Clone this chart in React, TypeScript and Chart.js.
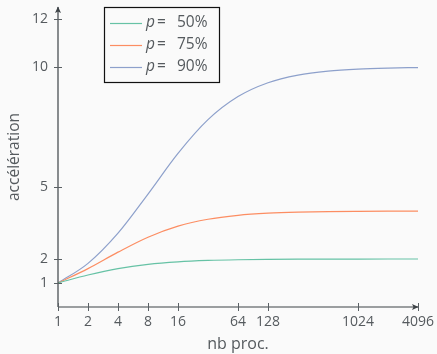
import React, { useEffect, useRef } from "react";
import { Chart, registerables } from "chart.js";

Chart.register(...registerables);

const procs = [1, 2, 4, 8, 16, 32, 64, 128, 256, 512, 1024, 2048, 4096];
const speedup50 = [1, 1.333, 1.6, 1.778, 1.882, 1.939, 1.969, 1.984, 1.992, 1.996, 1.998, 1.999, 2.0];
const speedup75 = [1, 1.6, 2.286, 2.909, 3.368, 3.657, 3.82, 3.908, 3.954, 3.977, 3.988, 3.994, 3.997];
const speedup90 = [1, 1.818, 3.077, 4.706, 6.4, 7.805, 8.767, 9.343, 9.66, 9.827, 9.913, 9.956, 9.978];
const xTicks = [1, 2, 4, 8, 16, 64, 128, 1024, 4096];
const yTicks = [1, 2, 5, 10, 12];
const seriesLabels = ["50%", "75%", "90%"];
const seriesColors = ["#66c2a5", "#fc8d62", "#8da0cb"];

const BG = "#fafafa";
const TEXT = "#555a5e";
const AXIS = "#3c4246";
const FONT = "'Open Sans', 'Noto Sans', sans-serif";

export default function App() {
  const ref = useRef<HTMLCanvasElement | null>(null);

  useEffect(() => {
    document.body.style.margin = "0";
    document.body.style.background = BG;
    const canvas = ref.current!;
    const bgPlugin = {
      id: "bg",
      beforeDraw(chart: any) {
        const c = chart.ctx;
        c.save();
        c.fillStyle = BG;
        c.fillRect(0, 0, chart.width, chart.height);
        c.restore();
      },
    };
    const axesPlugin = {
      id: "axesCustom",
      afterDatasetsDraw(chart: any) {
        const c = chart.ctx;
        const xs = chart.scales.x;
        const ys = chart.scales.y;
        const x0 = xs.getPixelForValue(1);
        const x1 = xs.getPixelForValue(4096);
        const y0 = ys.getPixelForValue(0);
        const yTop = ys.getPixelForValue(12.5);
        c.save();
        c.strokeStyle = AXIS;
        c.fillStyle = AXIS;
        c.lineWidth = 1.2;
        // x axis
        c.beginPath();
        c.moveTo(x0, y0);
        c.lineTo(x1, y0);
        c.stroke();
        c.beginPath();
        c.moveTo(x1 + 0.5, y0);
        c.lineTo(x1 - 6, y0 - 3);
        c.lineTo(x1 - 4.5, y0);
        c.lineTo(x1 - 6, y0 + 3);
        c.closePath();
        c.fill();
        // y axis
        c.beginPath();
        c.moveTo(x0, y0);
        c.lineTo(x0, yTop);
        c.stroke();
        c.beginPath();
        c.moveTo(x0, yTop - 0.5);
        c.lineTo(x0 - 3, yTop + 6);
        c.lineTo(x0, yTop + 4.5);
        c.lineTo(x0 + 3, yTop + 6);
        c.closePath();
        c.fill();
        // ticks
        c.lineWidth = 1;
        c.strokeStyle = "#5a6064";
        for (const t of xTicks) {
          const px = Math.round(xs.getPixelForValue(t)) + 0.5;
          c.beginPath();
          c.moveTo(px, y0 - 4);
          c.lineTo(px, y0 + 4);
          c.stroke();
        }
        for (const t of yTicks) {
          const py = Math.round(ys.getPixelForValue(t)) + 0.5;
          c.beginPath();
          c.moveTo(x0 - 4, py);
          c.lineTo(x0 + 4, py);
          c.stroke();
        }
        // legend
        const lx = 104.5, ly = 7.5, lw = 115, lh = 75;
        c.fillStyle = BG;
        c.fillRect(lx, ly, lw, lh);
        c.strokeStyle = "#111";
        c.lineWidth = 1.2;
        c.strokeRect(lx, ly, lw, lh);
        const rows = [23, 45, 67];
        for (let i = 0; i < 3; i++) {
          const ry = rows[i];
          c.strokeStyle = seriesColors[i];
          c.lineWidth = 1.2;
          c.beginPath();
          c.moveTo(110, ry + 0.5);
          c.lineTo(142, ry + 0.5);
          c.stroke();
          c.fillStyle = TEXT;
          c.textBaseline = "middle";
          c.textAlign = "left";
          c.font = "italic 15.5px " + FONT;
          c.fillText("p", 146, ry);
          c.font = "15.5px " + FONT;
          c.fillText("=", 157, ry);
          c.fillText(seriesLabels[i], 177, ry);
        }
        c.restore();
      },
    };

    const chart = new Chart(canvas, {
      type: "line",
      data: {
        labels: procs,
        datasets: [speedup50, speedup75, speedup90].map((d, i) => ({
          label: "p = " + seriesLabels[i],
          data: procs.map((n, j) => ({ x: n, y: d[j] })),
          borderColor: seriesColors[i],
          borderWidth: 1.2,
          pointRadius: 0,
          fill: false,
          cubicInterpolationMode: "monotone" as const,
        })),
      },
      options: {
        animation: false,
        responsive: false,
        maintainAspectRatio: false,
        layout: { padding: { left: 0, right: 19, top: 7, bottom: 0 } },
        plugins: {
          legend: { display: false },
          tooltip: { enabled: false },
        },
        scales: {
          x: {
            type: "logarithmic",
            min: 1,
            max: 4096,
            afterBuildTicks(scale: any) {
              scale.ticks = xTicks.map((v) => ({ value: v }));
            },
            afterFit(scale: any) {
              scale.height = 47;
              scale.paddingLeft = 0;
              scale.paddingRight = 0;
            },
            grid: { display: false, drawTicks: false },
            border: { display: false },
            ticks: {
              autoSkip: false,
              maxRotation: 0,
              padding: 7,
              color: TEXT,
              font: { family: FONT, size: 14 },
              callback: (v: any) => String(v),
            },
            title: {
              display: true,
              text: "nb proc.",
              color: TEXT,
              font: { family: FONT, size: 16 },
              padding: { top: 0, bottom: 0 },
            },
          },
          y: {
            type: "linear",
            min: 0,
            max: 12.5,
            afterBuildTicks(scale: any) {
              scale.ticks = yTicks.map((v) => ({ value: v }));
            },
            afterFit(scale: any) {
              scale.width = 58;
              scale.paddingTop = 0;
              scale.paddingBottom = 0;
            },
            grid: { display: false, drawTicks: false },
            border: { display: false },
            ticks: {
              padding: 10,
              color: TEXT,
              font: { family: FONT, size: 14 },
            },
            title: {
              display: true,
              text: "accélération",
              color: TEXT,
              font: { family: FONT, size: 15.5 },
              padding: { top: 5, bottom: 0 },
            },
          },
        },
      },
      plugins: [bgPlugin, axesPlugin],
    });
    return () => chart.destroy();
  }, []);

  return (
    <div style={{ width: 437, height: 354, background: BG }}>
      <canvas ref={ref} width={437} height={354} style={{ display: "block" }} />
    </div>
  );
}
